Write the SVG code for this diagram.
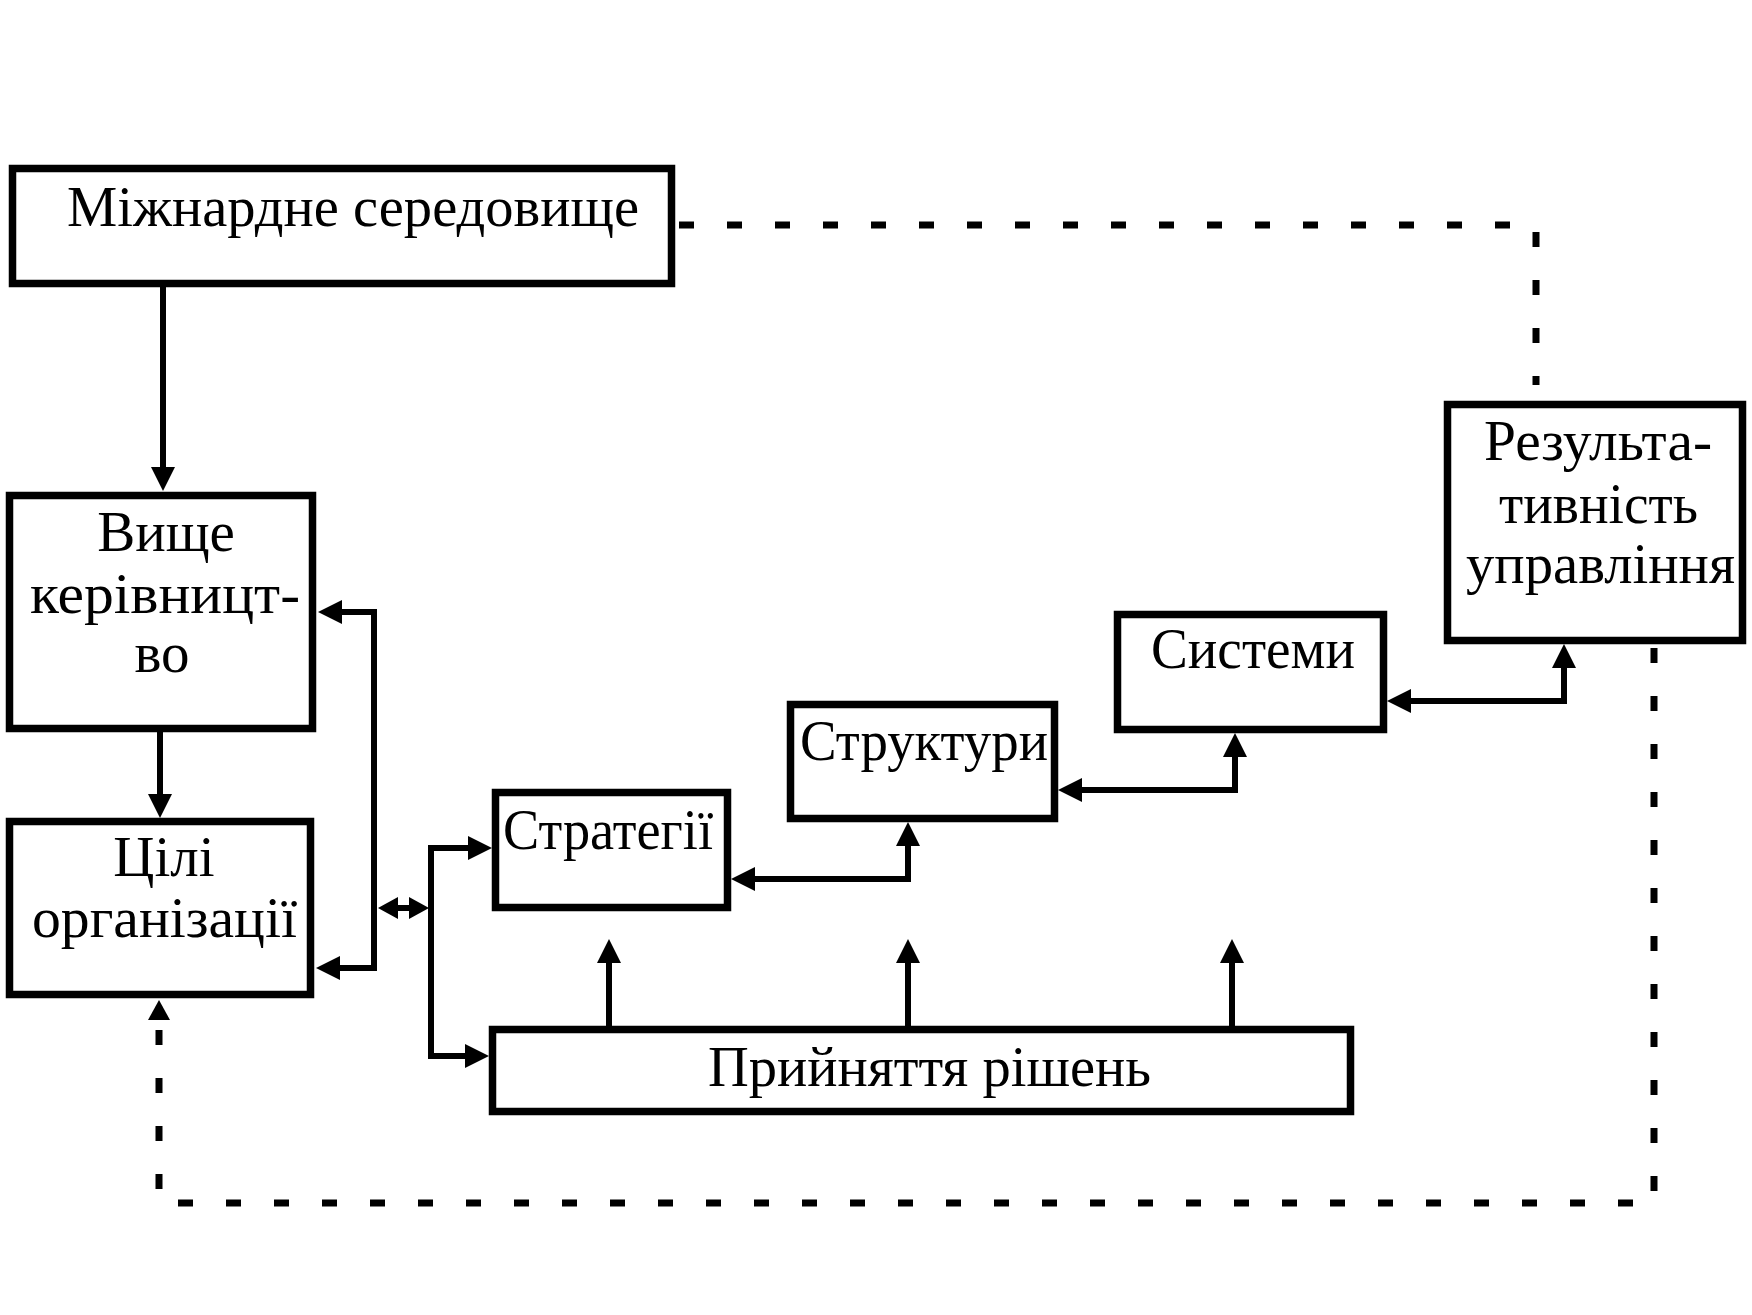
<svg xmlns="http://www.w3.org/2000/svg" width="1752" height="1315" viewBox="0 0 1752 1315">
<style>
.box{fill:#fff;stroke:#000;stroke-width:7.5}
.t{font-family:"Liberation Serif","Times New Roman",serif;font-size:57px;fill:#000}
.c{fill:none;stroke:#000;stroke-width:6}
.d{fill:none;stroke:#000;stroke-width:7;stroke-dasharray:15 33}
</style>
<defs>
<marker id="ah" markerUnits="userSpaceOnUse" markerWidth="24" markerHeight="24" viewBox="0 0 24 24" refX="16" refY="12" orient="auto-start-reverse"><path d="M0,0 L24,12 L0,24 Z" fill="#000"/></marker>
<marker id="as" markerUnits="userSpaceOnUse" markerWidth="20" markerHeight="22" viewBox="0 0 20 22" refX="13" refY="11" orient="auto-start-reverse"><path d="M0,0 L20,11 L0,22 Z" fill="#000"/></marker>
</defs>
<rect width="1752" height="1315" fill="#fff"/>
<g id="connectors">
<path class="c" d="M163,287 L163,483" marker-end="url(#ah)"/>
<path class="c" d="M160,732 L160,810" marker-end="url(#ah)"/>
<path class="c" d="M326,612 L374,612 L374,968 L324,968" marker-start="url(#ah)" marker-end="url(#ah)"/>
<path class="c" d="M385,908 L422,908" marker-start="url(#as)" marker-end="url(#as)"/>
<path class="c" d="M484,848 L431,848 L431,1056 L481,1056" marker-start="url(#ah)" marker-end="url(#ah)"/>
<path class="c" d="M739,879 L908,879 L908,830" marker-start="url(#ah)" marker-end="url(#ah)"/>
<path class="c" d="M1066,790 L1235,790 L1235,741" marker-start="url(#ah)" marker-end="url(#ah)"/>
<path class="c" d="M1395,701 L1564,701 L1564,652" marker-start="url(#ah)" marker-end="url(#ah)"/>
<path class="c" d="M609,1026 L609,947" marker-end="url(#ah)"/>
<path class="c" d="M908,1026 L908,947" marker-end="url(#ah)"/>
<path class="c" d="M1232,1026 L1232,947" marker-end="url(#ah)"/>
<path class="d" d="M679,225 L1536,225 L1536,385"/>
<path class="d" d="M1654,648 L1654,1203 L159,1203 L159,1012"/>
<path d="M148,1020 L159,1000 L170,1020 Z" fill="#000"/>
</g>
<g id="node-env">
<rect class="box" x="12.5" y="168.5" width="659" height="115"/>
<text class="t" x="67" y="226" textLength="572" lengthAdjust="spacingAndGlyphs">Міжнардне середовище</text>
</g>
<g id="node-top">
<rect class="box" x="9.5" y="495.5" width="303" height="233"/>
<text class="t" x="166" y="551" text-anchor="middle">Вище</text>
<text class="t" x="30" y="613" textLength="270" lengthAdjust="spacingAndGlyphs">керівницт-</text>
<text class="t" x="162" y="672" text-anchor="middle">во</text>
</g>
<g id="node-goals">
<rect class="box" x="9.5" y="821.5" width="301" height="173"/>
<text class="t" x="164" y="876" text-anchor="middle">Цілі</text>
<text class="t" x="32" y="937" textLength="265" lengthAdjust="spacingAndGlyphs">організації</text>
</g>
<g id="node-strategies">
<rect class="box" x="495.5" y="792.5" width="232" height="115"/>
<text class="t" x="503" y="849" textLength="210" lengthAdjust="spacingAndGlyphs">Стратегії</text>
</g>
<g id="node-structures">
<rect class="box" x="790.5" y="704.5" width="264" height="114"/>
<text class="t" x="800" y="760" textLength="248" lengthAdjust="spacingAndGlyphs">Структури</text>
</g>
<g id="node-systems">
<rect class="box" x="1117.5" y="614.5" width="266" height="115"/>
<text class="t" x="1151" y="668" textLength="204" lengthAdjust="spacingAndGlyphs">Системи</text>
</g>
<g id="node-result">
<rect class="box" x="1447.5" y="404.5" width="295" height="236"/>
<text class="t" x="1484" y="460" textLength="228" lengthAdjust="spacingAndGlyphs">Результа-</text>
<text class="t" x="1499" y="523" textLength="199" lengthAdjust="spacingAndGlyphs">тивність</text>
<text class="t" x="1466" y="583" textLength="269" lengthAdjust="spacingAndGlyphs">управління</text>
</g>
<g id="node-decisions">
<rect class="box" x="492.5" y="1029.5" width="858" height="82"/>
<text class="t" x="708" y="1086" textLength="443" lengthAdjust="spacingAndGlyphs">Прийняття рішень</text>
</g>
</svg>
